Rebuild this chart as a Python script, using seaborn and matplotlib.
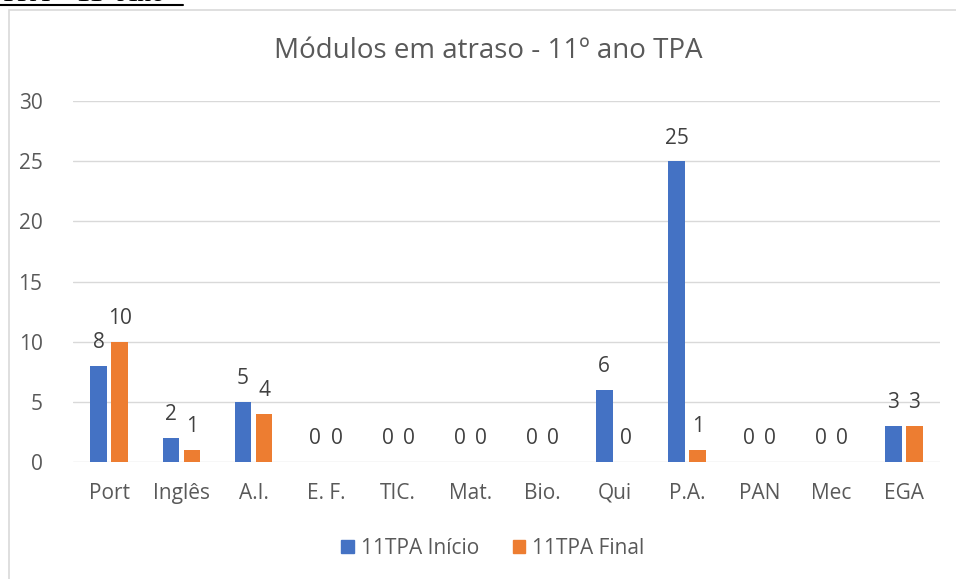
import matplotlib
matplotlib.use("Agg")
import matplotlib.pyplot as plt
import seaborn as sns
import pandas as pd
from matplotlib.lines import Line2D
from matplotlib.patches import Rectangle

categories = ["Port", "Inglês", "A.I.", "E. F.", "TIC.", "Mat.", "Bio.", "Qui", "P.A.", "PAN", "Mec", "EGA"]
inicio = [8, 2, 5, 0, 0, 0, 0, 6, 25, 0, 0, 3]
final = [10, 1, 4, 0, 0, 0, 0, 0, 1, 0, 0, 3]
series_names = ["11TPA Início", "11TPA Final"]
yticks = [0, 5, 10, 15, 20, 25, 30]
title = "Módulos em atraso - 11º ano TPA"
header = "TPA – 11º Ano"

df = pd.DataFrame({
    "Disciplina": categories * 2,
    "Módulos": inicio + final,
    "Série": [series_names[0]] * len(categories) + [series_names[1]] * len(categories),
})

sns.set_theme(style="white")
plt.rcParams["font.family"] = ["Open Sans", "DejaVu Sans"]

W, H = 956, 579
fig = plt.figure(figsize=(W / 100, H / 100), dpi=100)
ax = fig.add_axes([73 / W, 1 - 462 / H, (940 - 73) / W, (462 - 101) / H])

palette = {series_names[0]: "#4472C4", series_names[1]: "#ED7D31"}
sns.barplot(data=df, x="Disciplina", y="Módulos", hue="Série", order=categories,
            hue_order=series_names, palette=palette, width=0.586, gap=0.22,
            saturation=1, ax=ax, legend=False, linewidth=0)

for c in ax.containers:
    ax.bar_label(c, fmt="%g", padding=9, fontsize=15, color="#404040")

ax.set_ylim(0, 30)
ax.set_xlim(-0.5, len(categories) - 0.5)
ax.set_yticks(yticks)
ax.yaxis.grid(True, color="#d9d9d9", linewidth=1)
ax.set_axisbelow(True)
for s in ax.spines.values():
    s.set_visible(False)
ax.set_xlabel("")
ax.set_ylabel("")
ax.tick_params(axis="both", length=0, labelsize=15, colors="#595959")
ax.tick_params(axis="x", pad=15)
ax.tick_params(axis="y", pad=22)
for lab in ax.get_yticklabels():
    lab.set_horizontalalignment("right")

fig.text(488 / W, 1 - 51 / H, title, ha="center", va="center", fontsize=20, color="#595959")

handles = [Rectangle((0, 0), 1, 1, color=palette[n]) for n in series_names]
fig.legend(handles, series_names, loc="center", bbox_to_anchor=(493 / W, 1 - 548 / H),
           ncol=2, frameon=False, fontsize=15, handlelength=0.6, handleheight=0.6,
           handletextpad=0.35, columnspacing=1.6, labelcolor="#595959")

# chart border
fig.add_artist(Rectangle((9 / W, -0.01), 1.0, 1 - 10 / H + 0.01, transform=fig.transFigure,
                         fill=False, edgecolor="#d9d9d9", linewidth=1.2))

# cut-off header above the chart
fig.text(0, 1 - 1 / H, header, ha="left", va="baseline", fontsize=20,
         family="Liberation Serif", color="black")
fig.add_artist(Line2D([0, 183 / W], [1 - 5 / H, 1 - 5 / H], transform=fig.transFigure,
                      color="black", linewidth=1.5))

fig.savefig("out.png", dpi=100)
